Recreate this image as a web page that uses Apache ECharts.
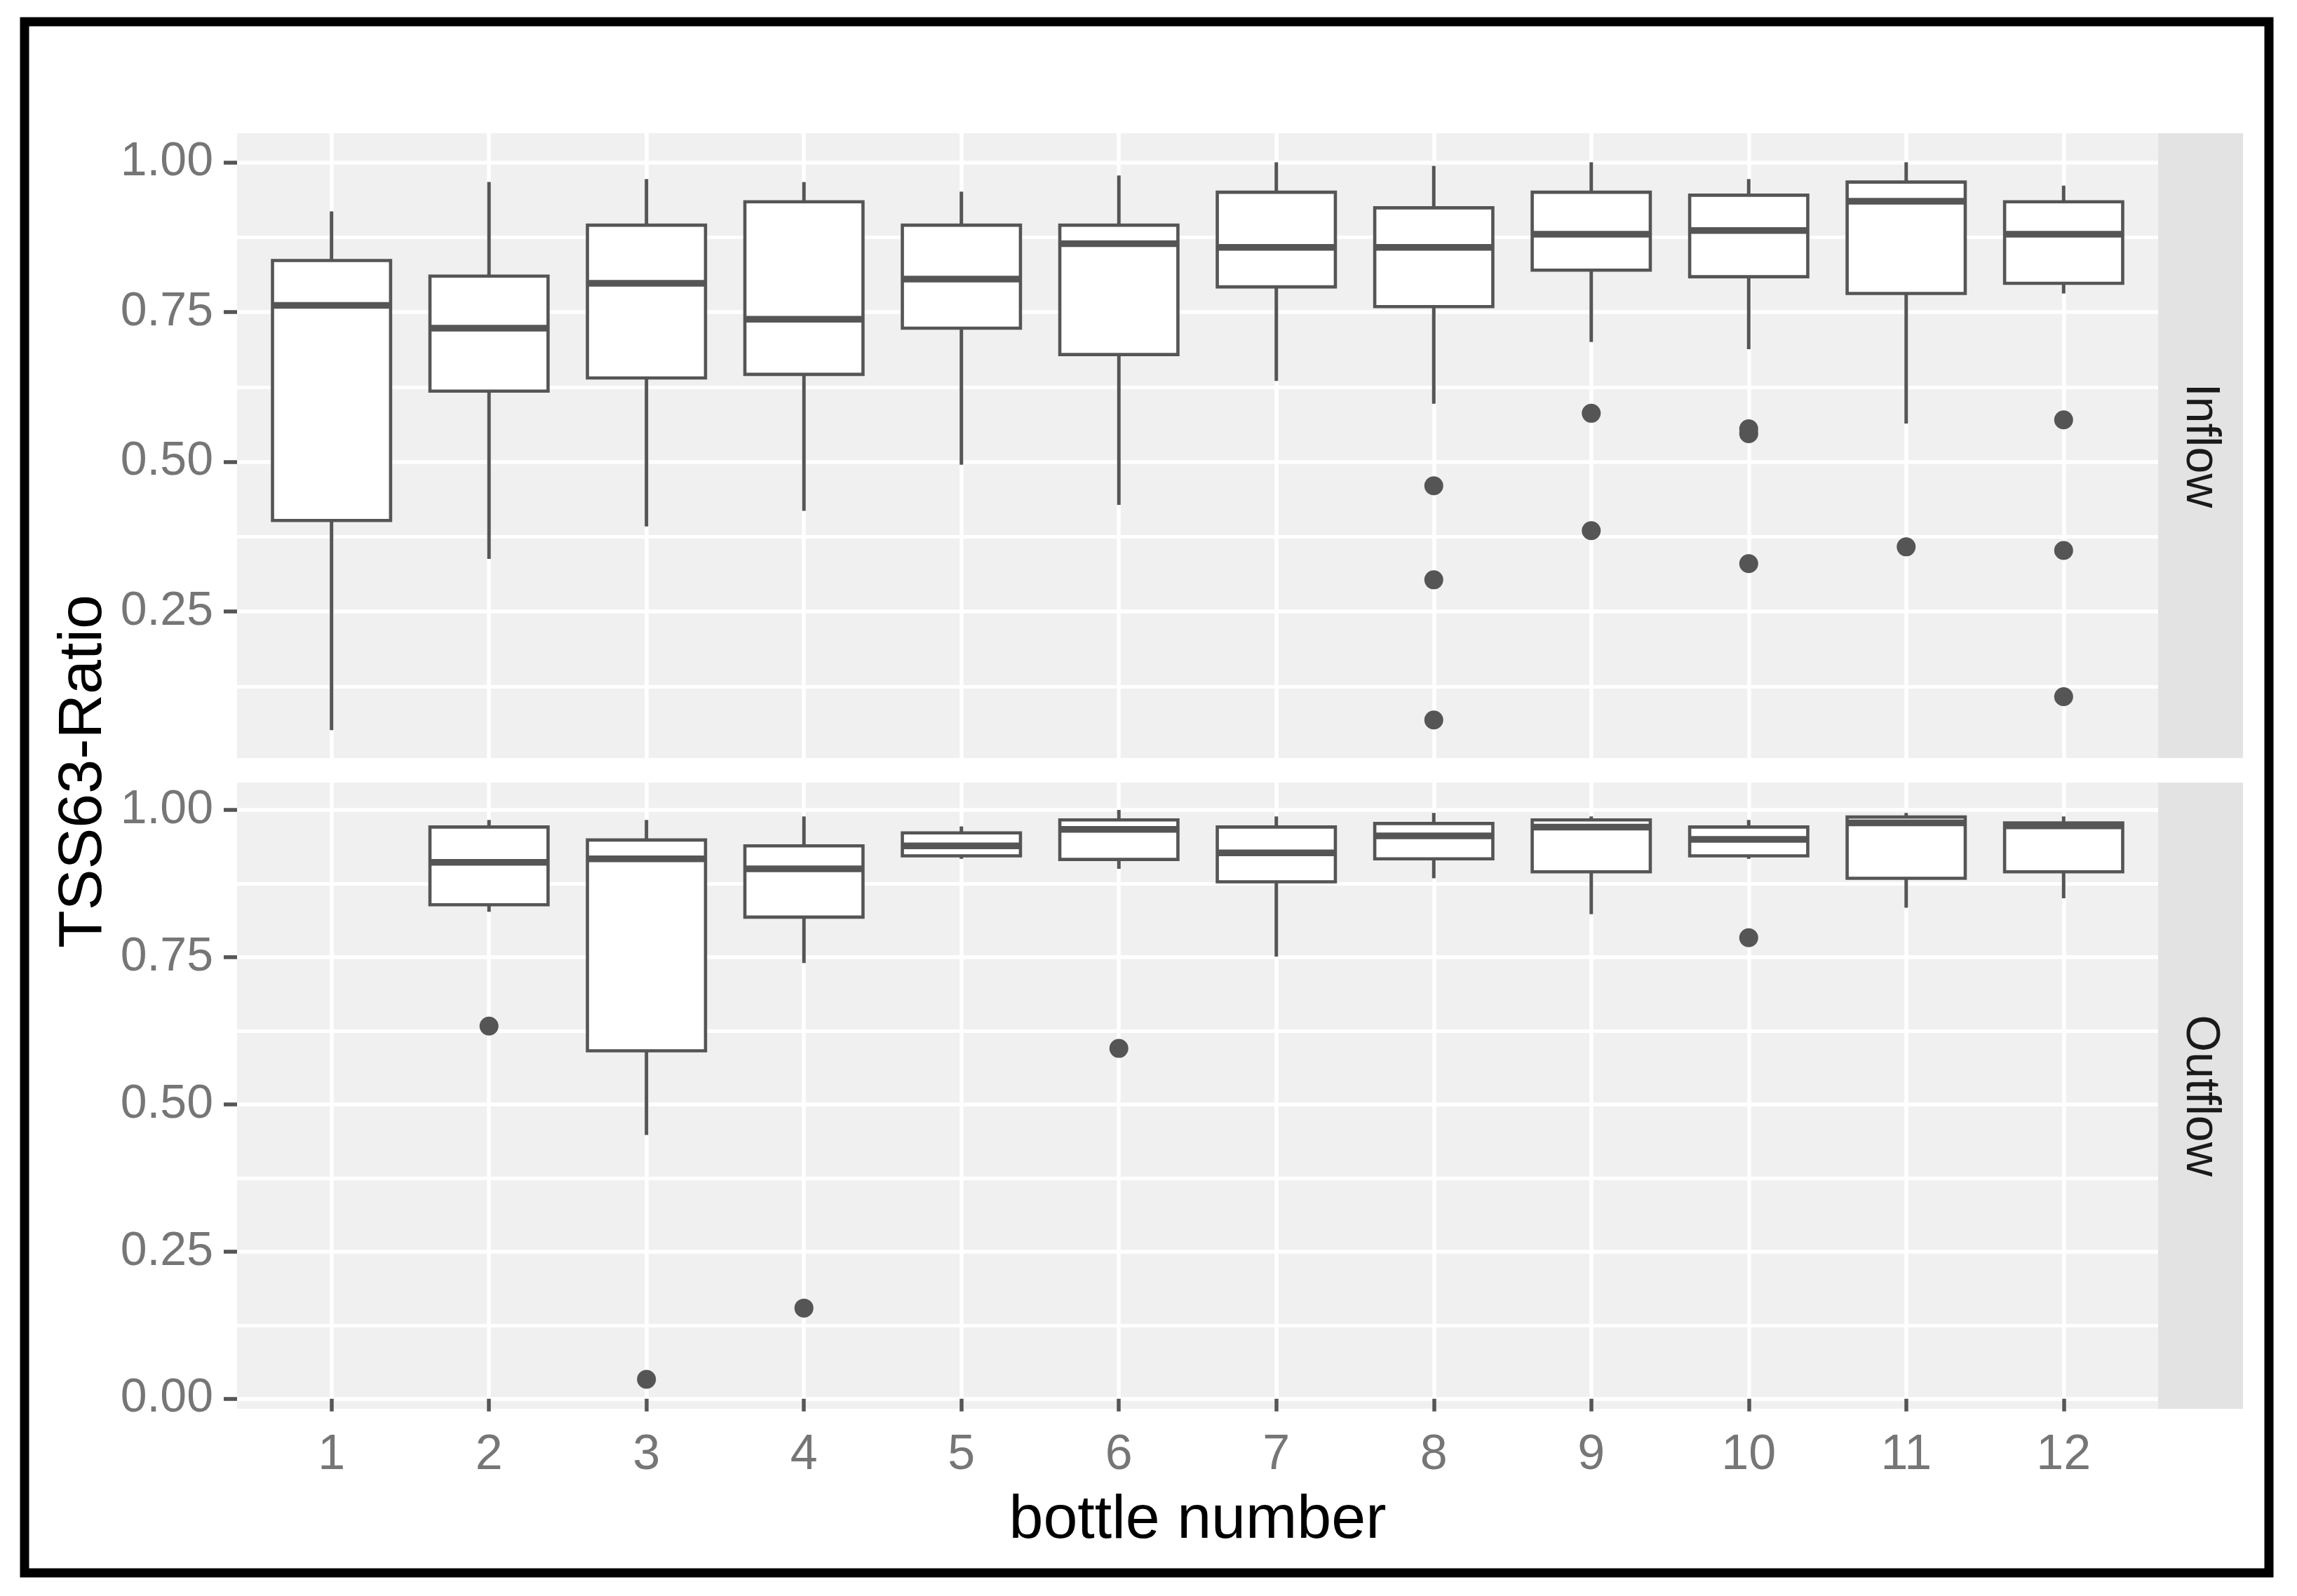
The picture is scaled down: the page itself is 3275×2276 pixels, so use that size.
<!DOCTYPE html>
<html>
<head>
<meta charset="utf-8">
<script src="https://cdn.jsdelivr.net/npm/echarts@6.0.0/dist/echarts.min.js"></script>
<style>
html,body{margin:0;padding:0;background:#fff;}
#chart{width:3275px;height:2276px;}
</style>
</head>
<body>
<div id="chart"></div>
<script>
// ---------- data ----------
const bottles = [1, 2, 3, 4, 5, 6, 7, 8, 9, 10, 11, 12];
const facets = ['Inflow', 'Outflow'];

// Inflow box statistics (per bottle)
const inflowLower  = [0.052, 0.338, 0.392, 0.418, 0.495, 0.428, 0.635, 0.597, 0.700, 0.688, 0.564, 0.781];
const inflowQ1     = [0.402, 0.618, 0.640, 0.646, 0.723, 0.679, 0.792, 0.759, 0.820, 0.809, 0.781, 0.798];
const inflowMedian = [0.761, 0.723, 0.798, 0.738, 0.805, 0.864, 0.858, 0.858, 0.880, 0.886, 0.935, 0.880];
const inflowQ3     = [0.836, 0.810, 0.895, 0.934, 0.895, 0.895, 0.950, 0.924, 0.950, 0.945, 0.967, 0.934];
const inflowUpper  = [0.918, 0.967, 0.972, 0.967, 0.951, 0.978, 1.000, 0.994, 1.000, 0.972, 1.000, 0.961];
const inflowOutliers = [
  [8, 0.460], [8, 0.303], [8, 0.069],
  [9, 0.581], [9, 0.385],
  [10, 0.555], [10, 0.547], [10, 0.330],
  [11, 0.358],
  [12, 0.570], [12, 0.352], [12, 0.108]
];

// Outflow box statistics (per bottle; bottle 1 has no data)
const outflowLower  = [null, 0.827, 0.448, 0.740, 0.917, 0.900, 0.751, 0.884, 0.823, 0.917, 0.834, 0.850];
const outflowQ1     = [null, 0.839, 0.591, 0.818, 0.922, 0.916, 0.878, 0.917, 0.895, 0.922, 0.884, 0.895];
const outflowMedian = [null, 0.911, 0.917, 0.900, 0.939, 0.967, 0.927, 0.956, 0.971, 0.950, 0.978, 0.973];
const outflowQ3     = [null, 0.971, 0.949, 0.939, 0.961, 0.983, 0.971, 0.977, 0.983, 0.971, 0.988, 0.978];
const outflowUpper  = [null, 0.983, 0.983, 0.989, 0.972, 1.000, 0.989, 0.995, 0.989, 0.983, 0.995, 0.989];
const outflowOutliers = [
  [2, 0.633], [3, 0.033], [4, 0.154], [6, 0.595], [10, 0.783]
];

// tick values
const inflowMajorTicks  = [0.25, 0.50, 0.75, 1.00];
const outflowMajorTicks = [0.00, 0.25, 0.50, 0.75, 1.00];
const minorTicks        = [0.125, 0.375, 0.625, 0.875];

// ---------- build ----------
const FONT = "'Liberation Sans', Arial, Helvetica, sans-serif";
const LINE = '#555555';
const GRID_WHITE = '#ffffff';

function boxRows(lo, q1, md, q3, hi) {
  return bottles.map((b, i) => [b, lo[i], q1[i], md[i], q3[i], hi[i]])
                .filter(r => r[1] != null);
}
const inflowBoxes = boxRows(inflowLower, inflowQ1, inflowMedian, inflowQ3, inflowUpper);
const outflowBoxes = boxRows(outflowLower, outflowQ1, outflowMedian, outflowQ3, outflowUpper);

function renderBox(params, api) {
  const x = api.value(0);
  const low = api.coord([x, api.value(1)]);
  const q1 = api.coord([x, api.value(2)]);
  const med = api.coord([x, api.value(3)]);
  const q3 = api.coord([x, api.value(4)]);
  const high = api.coord([x, api.value(5)]);
  const w = api.size([0.75, 0])[0];
  const cx = low[0];
  return {
    type: 'group',
    children: [
      { type: 'line', shape: { x1: cx, y1: high[1], x2: cx, y2: q3[1] }, style: { stroke: LINE, lineWidth: 5 } },
      { type: 'line', shape: { x1: cx, y1: q1[1], x2: cx, y2: low[1] }, style: { stroke: LINE, lineWidth: 5 } },
      { type: 'rect', shape: { x: cx - w / 2, y: q3[1], width: w, height: q1[1] - q3[1] },
        style: { fill: '#ffffff', stroke: LINE, lineWidth: 4.6 } },
      { type: 'line', shape: { x1: cx - w / 2, y1: med[1], x2: cx + w / 2, y2: med[1] },
        style: { stroke: LINE, lineWidth: 9.5 } }
    ]
  };
}

const gridTop = [190, 1116];
const gridH = [891, 893];
const gridLeft = 338, gridW = 2739;
const yRanges = [[0.0055, 1.0485], [-0.017, 1.0465]];
const majors = [inflowMajorTicks, outflowMajorTicks];

const xAxes = [0, 1].map(g => ({
  gridIndex: g, type: 'value', min: 0.4, max: 12.6,
  axisLine: { show: false },
  axisTick: { show: g === 1, customValues: bottles, length: 18, lineStyle: { color: LINE, width: 5.5 } },
  axisLabel: { show: g === 1, customValues: bottles, margin: 32, fontSize: 70, color: '#767676', fontFamily: FONT },
  splitLine: { show: true, lineStyle: { color: GRID_WHITE, width: 5.5 } },
  name: g === 1 ? 'bottle number' : '',
  nameLocation: 'middle', nameGap: 116,
  nameTextStyle: { fontSize: 88, color: '#000000', fontFamily: FONT }
}));

const yAxes = [];
[0, 1].forEach(g => {
  yAxes.push({
    gridIndex: g, type: 'value', position: 'left', min: yRanges[g][0], max: yRanges[g][1],
    axisLine: { show: false },
    axisTick: { show: true, customValues: majors[g], length: 19, lineStyle: { color: LINE, width: 5.5 } },
    axisLabel: { show: true, customValues: majors[g], margin: 34, fontSize: 68, color: '#767676',
                 fontFamily: FONT, padding: [18, 0, 0, 0], formatter: v => Number(v).toFixed(2) },
    splitLine: { show: true, lineStyle: { color: GRID_WHITE, width: 5.5 } }
  });
  yAxes.push({
    gridIndex: g, type: 'value', position: 'right', min: yRanges[g][0], max: yRanges[g][1],
    axisLine: { show: false },
    axisTick: { show: false, customValues: minorTicks },
    axisLabel: { show: false, customValues: minorTicks },
    splitLine: { show: true, lineStyle: { color: GRID_WHITE, width: 5 } }
  });
});

const graphics = [];
facets.forEach((f, g) => {
  graphics.push({ type: 'rect', shape: { x: gridLeft + gridW, y: gridTop[g], width: 121, height: gridH[g] },
                  style: { fill: '#E3E3E3' }, silent: true });
  graphics.push({ type: 'text', x: gridLeft + gridW + 60, y: gridTop[g] + gridH[g] / 2, rotation: -Math.PI / 2,
                  style: { text: f, fontSize: 68, fontFamily: FONT, fill: '#1A1A1A', align: 'center', verticalAlign: 'middle' } });
});
graphics.push({ type: 'text', x: 120, y: 1100, rotation: Math.PI / 2,
                style: { text: 'TSS63-Ratio', fontSize: 88, fontFamily: FONT, fill: '#000000', align: 'center', verticalAlign: 'middle' } });
graphics.push({ type: 'rect', shape: { x: 35, y: 31, width: 3200, height: 2212 },
                style: { fill: 'none', stroke: '#000000', lineWidth: 13 }, z: 100 });

const chart = echarts.init(document.getElementById('chart'), null, { renderer: 'canvas' });
chart.setOption({
  animation: false,
  backgroundColor: '#ffffff',
  grid: [0, 1].map(g => ({ left: gridLeft, top: gridTop[g], width: gridW, height: gridH[g],
                          show: true, backgroundColor: '#F0F0F0', borderWidth: 0 })),
  xAxis: xAxes,
  yAxis: yAxes,
  graphic: graphics,
  series: [
    { name: 'Inflow', type: 'custom', xAxisIndex: 0, yAxisIndex: 0, renderItem: renderBox,
      encode: { x: 0, y: [1, 2, 3, 4, 5] }, data: inflowBoxes, z: 3 },
    { name: 'Outflow', type: 'custom', xAxisIndex: 1, yAxisIndex: 2, renderItem: renderBox,
      encode: { x: 0, y: [1, 2, 3, 4, 5] }, data: outflowBoxes, z: 3 },
    { name: 'Inflow outliers', type: 'scatter', xAxisIndex: 0, yAxisIndex: 0, data: inflowOutliers,
      symbol: 'circle', symbolSize: 27, itemStyle: { color: LINE, opacity: 1 }, z: 4 },
    { name: 'Outflow outliers', type: 'scatter', xAxisIndex: 1, yAxisIndex: 2, data: outflowOutliers,
      symbol: 'circle', symbolSize: 27, itemStyle: { color: LINE, opacity: 1 }, z: 4 }
  ]
});
</script>
</body>
</html>
